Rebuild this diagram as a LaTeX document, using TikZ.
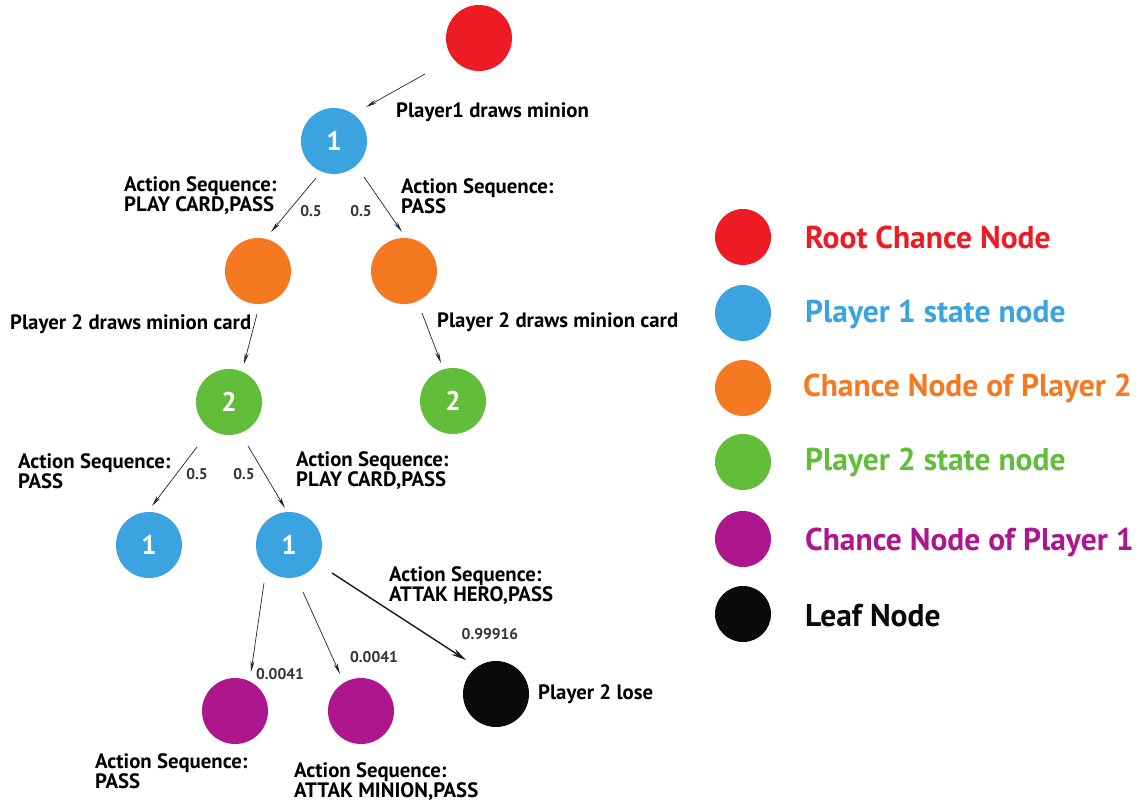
\documentclass[tikz,border=0pt]{standalone}
\usepackage{fontspec}
\setmainfont{PT Sans}
\usetikzlibrary{arrows.meta,calc}
\definecolor{cred}{HTML}{ED1C24}
\definecolor{cblue}{HTML}{3BA4E0}
\definecolor{corange}{HTML}{F47920}
\definecolor{cgreen}{HTML}{62BD3A}
\definecolor{cpurple}{HTML}{AD168D}
\definecolor{cblack}{HTML}{0A0A0A}
\begin{document}
\begin{tikzpicture}[x=1pt,y=-1pt,
  state/.style={circle,minimum size=66pt,inner sep=0pt,text=white,font=\bfseries\fontsize{27}{27}\selectfont},
  lbl/.style={anchor=west,align=left,inner sep=0pt,font=\bfseries\fontsize{20.8}{20}\selectfont},
  prob/.style={inner sep=0pt,text=black!80,font=\bfseries\fontsize{15.5}{15}\selectfont},
  arr/.style={-{Stealth[length=11pt,width=4pt]},line width=0.7pt,draw=black!85},
  thickarr/.style={-{Stealth[length=15pt,width=7pt]},line width=1.4pt,draw=black!90},
  leg/.style={circle,minimum size=56pt,inner sep=0pt},
  legtxt/.style={anchor=west,inner sep=0pt,font=\bfseries\fontsize{31.5}{31}\selectfont}]
\useasboundingbox (0,0) rectangle (1138,803);
\fill[white] (0,0) rectangle (1138,803);

% tree nodes
\node[state,fill=cred] (root) at (479,38) {};
\node[state,fill=cblue] (p1) at (334,141) {1};
\node[state,fill=corange] (oL) at (258,271) {};
\node[state,fill=corange] (oR) at (404,271) {};
\node[state,fill=cgreen] (gL) at (229,402) {2};
\node[state,fill=cgreen] (gR) at (453,401) {2};
\node[state,fill=cblue] (bL) at (149,545) {1};
\node[state,fill=cblue] (bR) at (289,545) {1};
\node[state,fill=cpurple] (pL) at (235,711) {};
\node[state,fill=cpurple] (pM) at (361,711) {};
\node[state,fill=cblack] (lf) at (496,694) {};

% connectors
\draw[arr] ($(root)+(-54,36)$) -- ($(p1)+(32,-34)$);
\draw[arr] ($(p1)+(-18,37)$) -- ($(oL)+(13,-39)$);
\draw[arr] ($(p1)+(30,36)$) -- ($(oR)+(-2,-39)$);
\draw[arr] ($(oL)+(-1,43)$) -- ($(gL)+(15,-38)$);
\draw[arr] ($(oR)+(18,42)$) -- ($(gR)+(-12,-38)$);
\draw[arr] ($(gL)+(-32,45)$) -- ($(bL)+(3,-39)$);
\draw[arr] ($(gL)+(19,44)$) -- ($(bR)+(-4,-37)$);
\draw[arr] ($(bR)+(-25,38)$) -- ($(pL)+(16,-39)$);
\draw[arr] ($(bR)+(14,47)$) -- ($(pM)+(-21,-37)$);
\draw[thickarr] ($(bR)+(43,28)$) -- ($(lf)+(-30,-34)$);

% labels
\node[lbl] (t1) at (396,112) {Player1 draws minion};
\node[lbl] (t2) at (124,196) {Action Sequence:\\PLAY CARD,PASS};
\node[lbl] (t3) at (401,196) {Action Sequence:\\PASS};
\node[prob] (q1) at (311,211) {0.5};
\node[prob] (q2) at (361,211) {0.5};
\node[lbl] (t4) at (10,324) {Player 2 draws minion card};
\node[lbl] (t5) at (437,322) {Player 2 draws minion card};
\node[lbl] (t6) at (18,471) {Action Sequence:\\PASS};
\node[lbl] (t7) at (296,471) {Action Sequence:\\PLAY CARD,PASS};
\node[prob] (q3) at (197,474) {0.5};
\node[prob] (q4) at (244,474) {0.5};
\node[lbl] (t8) at (389,586) {Action Sequence:\\ATTAK HERO,PASS};
\node[prob] (q5) at (490,634) {0.99916};
\node[prob] (q6) at (280,674) {0.0041};
\node[prob] (q7) at (374,657) {0.0041};
\node[lbl] (t9) at (538,694) {Player 2 lose};
\node[lbl] (t10) at (95,771) {Action Sequence:\\PASS};
\node[lbl] (t11) at (294,782) {Action Sequence:\\ATTAK MINION,PASS};

% legend
\node[leg,fill=cred] (l1) at (743,237) {};
\node[leg,fill=cblue] (l2) at (743,313) {};
\node[leg,fill=corange] (l3) at (743,388) {};
\node[leg,fill=cgreen] (l4) at (743,462) {};
\node[leg,fill=cpurple] (l5) at (743,539) {};
\node[leg,fill=cblack] (l6) at (743,614) {};
\node[legtxt,text=cred] (lt1) at (805,237) {Root Chance Node};
\node[legtxt,text=cblue] (lt2) at (805,315) {Player 1 state node};
\node[legtxt,text=corange] (lt3) at (803,388) {Chance Node of Player 2};
\node[legtxt,text=cgreen] (lt4) at (805,462) {Player 2 state node};
\node[legtxt,text=cpurple] (lt5) at (805,542) {Chance Node of Player 1};
\node[legtxt,text=cblack] (lt6) at (805,616) {Leaf Node};
\end{tikzpicture}
\end{document}
